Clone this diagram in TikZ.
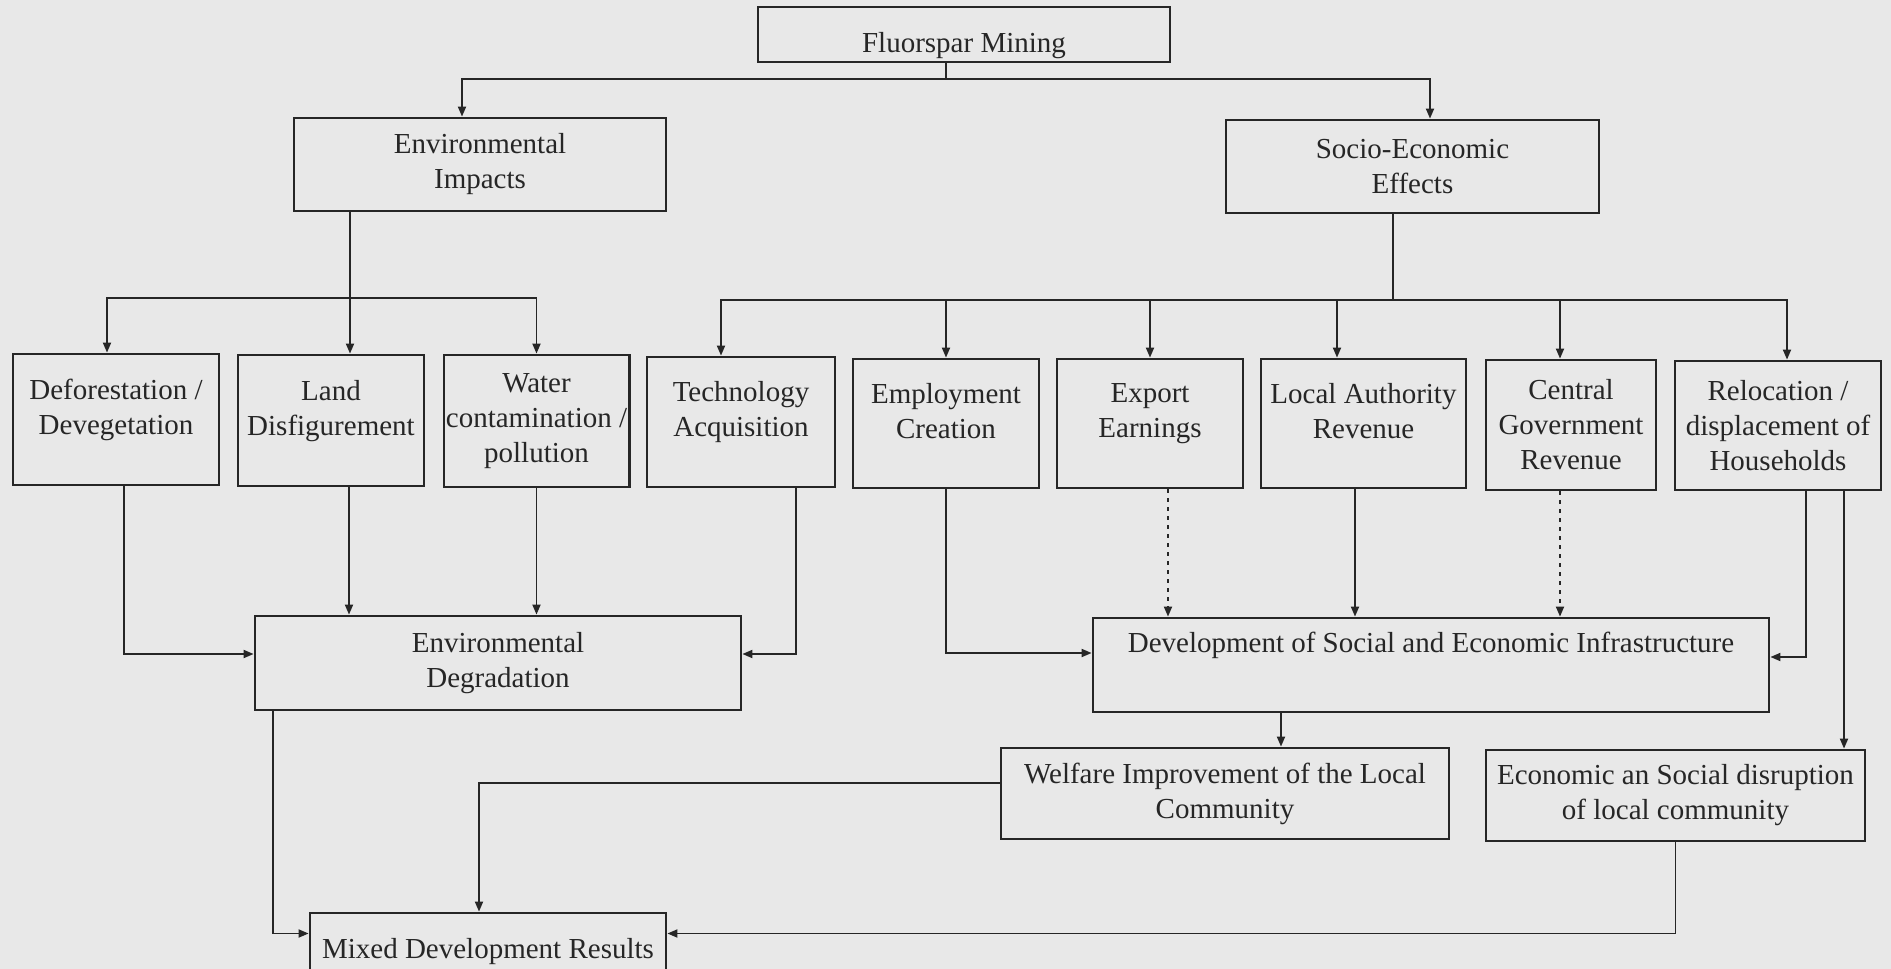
\documentclass[tikz,border=0pt]{standalone}
\usepackage{fontspec}
\setmainfont{Liberation Serif}
\usepackage{xcolor}
\usepackage{tikz}
\usetikzlibrary{arrows.meta,positioning,calc}

\definecolor{paper}{RGB}{232,232,232}
\definecolor{ink}{RGB}{38,38,38}

\begin{document}
\begin{tikzpicture}[
    x=0.5pt, y=-0.5pt,
    font=\fontsize{14.5}{17.5}\selectfont,
    % boxes, sized in pixels of the scan (width, height)
    box/.style 2 args={draw=ink, text=ink, line width=1.4pt, align=center,
      inner sep=1pt, minimum width=#1*0.5pt, minimum height=#2*0.5pt},
    link/.style={draw=ink, line width=0.9pt},
    arr/.style={link, -{Triangle[length=5pt,width=4pt]}},
    dotarr/.style={arr, dash pattern=on 2pt off 2.5pt},
  ]
  \fill[paper] (0,0) rectangle (1891,969);
  \useasboundingbox (0,0) rectangle (1891,969);
  \clip (0,0) rectangle (1891,969);

  % top
  \node[box={412}{55}, text height=21pt, text depth=3pt] (fluor) at (964,34.5) {Fluorspar Mining};
  \node[box={372}{93}] (envimp) at (480,164.5) {Environmental\\Impacts};
  \node[box={373}{93}] (socio) at (1412.5,166.5) {Socio-Economic\\Effects};

  % second row
  \node[box={206}{131}] (defor) at (116,419.5) {Deforestation /\\Devegetation\\[-10pt]\strut};
  \node[box={186}{131}] (land) at (331,420.5) {Land\\Disfigurement\\[-10pt]\strut};
  \node[box={185}{132}] (water) at (536.5,421) {Water\\contamination /\\pollution};
  \node[box={188}{130}] (tech) at (741,422) {Technology\\Acquisition\\[-10pt]\strut};
  \node[box={186}{129}] (employ) at (946,423.5) {Employment\\Creation\\[-10pt]\strut};
  \node[box={186}{129}] (export) at (1150,423.5) {Export\\Earnings\\[-10pt]\strut};
  \node[box={205}{129}] (local) at (1363.5,423.5) {Local Authority\\Revenue\\[-10pt]\strut};
  \node[box={170}{130}] (central) at (1571,425) {Central\\Government\\Revenue};
  \node[box={206}{129}] (reloc) at (1778,425.5) {Relocation /\\displacement of\\Households};

  % outcomes
  \node[box={486}{94}] (envdeg) at (498,663) {Environmental\\Degradation};
  \node[box={676}{94}] (infra) at (1431,665) {Development of Social and Economic Infrastructure\\\strut};
  \node[box={448}{91}] (welfare) at (1225,793.5) {Welfare Improvement of the Local\\Community};
  \node[box={379}{91}] (disrupt) at (1675.5,795.5) {Economic an Social disruption\\of local community};
  \node[box={356}{77}] (mixed) at (488,951.5) {Mixed Development Results};

  % bus junctions
  \coordinate (topbus) at (946,79);
  \coordinate (envbus) at (350,298);
  \coordinate (sebus) at (1393,300);

  \draw[link] (topbus |- fluor.south) -- (topbus);
  \draw[arr] (topbus) -| ([xshift=-9pt]envimp.north);
  \draw[arr] (topbus) -| ([xshift=8.75pt]socio.north);

  \draw[link] (envbus |- envimp.south) -- (envbus);
  \draw[arr] (envbus) -| ([xshift=-4.5pt]defor.north);
  \draw[arr] (envbus) -- (envbus |- land.north);
  \draw[arr] (envbus) -| (water.north);

  \draw[link] (sebus |- socio.south) -- (sebus);
  \draw[arr] (sebus) -| ([xshift=-10pt]tech.north);
  \draw[arr] (sebus) -| (employ.north);
  \draw[arr] (sebus) -| (export.north);
  \draw[arr] (sebus) -| ([xshift=-13.25pt]local.north);
  \draw[arr] (sebus) -| ([xshift=-5.5pt]central.north);
  \draw[arr] (sebus) -| ([xshift=4.5pt]reloc.north);

  % into environmental degradation
  \draw[arr] ([xshift=4pt]defor.south) |- ([yshift=4.5pt]envdeg.west);
  \draw[arr] ([xshift=9pt]land.south) -- ([xshift=9pt]land.south |- envdeg.north);
  \draw[arr] (water.south) -- (water.south |- envdeg.north);
  \draw[arr] ([xshift=27.5pt]tech.south) |- ([yshift=4.5pt]envdeg.east);

  % into infrastructure
  \draw[arr] (employ.south) |- ([yshift=6pt]infra.west);
  \draw[dotarr] ([xshift=9pt]export.south) -- ([xshift=9pt]export.south |- infra.north);
  \draw[arr] ([xshift=-4.25pt]local.south) -- ([xshift=-4.25pt]local.south |- infra.north);
  \draw[dotarr] ([xshift=-5.5pt]central.south) -- ([xshift=-5.5pt]central.south |- infra.north);
  \draw[arr] ([xshift=14pt]reloc.south) |- ([yshift=4pt]infra.east);
  \draw[arr] ([xshift=33pt]reloc.south) -- ([xshift=33pt]reloc.south |- disrupt.north);
  \draw[arr] ([xshift=-75pt]infra.south) -- ([xshift=-75pt]infra.south |- welfare.north);

  % into mixed results
  \draw[arr] ([xshift=-112.5pt]envdeg.south) |- ([yshift=9pt]mixed.west);
  \draw[arr] ([yshift=5.25pt]welfare.west) -| ([xshift=-4.5pt]mixed.north);
  \draw[arr] (disrupt.south) |- ([yshift=9pt]mixed.east);
\end{tikzpicture}
\end{document}
